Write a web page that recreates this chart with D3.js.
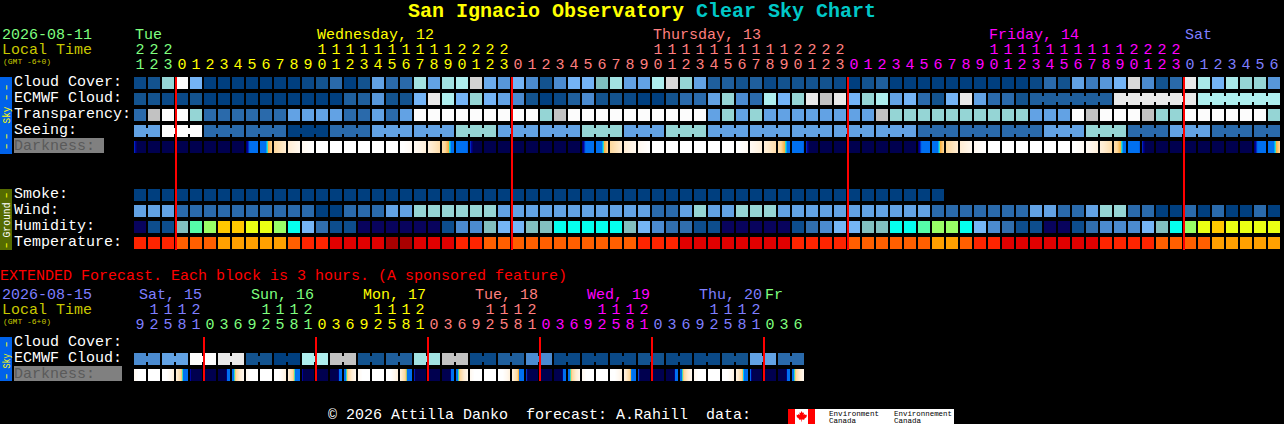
<!DOCTYPE html>
<html><head><meta charset="utf-8">
<script src="https://cdn.jsdelivr.net/npm/d3@7/dist/d3.min.js"></script>
<style>
html,body{margin:0;padding:0;background:#000;overflow:hidden}
svg{display:block}
text{font-family:"Liberation Mono",monospace;white-space:pre}
rect,line{shape-rendering:crispEdges}
</style></head><body><svg id="c" width="1284" height="424"></svg>
<script>
// ---- data: sky values in percent of the colour ramp, one per block ----
const cloudCover=[5,10,70,100,50,0,0,0,0,0,0,0,5,10,20,0,10,40,20,20,75,40,75,80,92,45,35,50,30,10,30,50,50,60,75,40,40,80,93,70,40,15,15,10,15,5,10,10,10,10,5,0,10,15,0,0,0,0,0,0,0,0,0,0,5,20,10,40,25,35,50,93,30,10,20,95,78,50,78,70,70,35];
const ecmwfCloud=[10,10,5,5,10,0,0,0,0,0,0,0,0,0,0,15,15,35,10,10,50,95,80,50,70,50,40,30,10,0,5,15,30,10,10,5,0,0,10,20,20,40,70,30,20,80,50,70,95,90,95,50,70,80,40,50,20,10,50,95,40,20,20,10,15,15,15,15,15,15,95,95,95,95,95,95,80,80,80,80,80,80];
const transparency=[20,90,100,100,70,20,20,20,20,20,20,40,40,40,40,20,20,40,20,40,100,100,100,100,100,100,100,100,100,70,90,100,100,100,100,100,100,100,100,100,100,40,70,40,70,40,40,40,40,40,40,40,40,90,70,70,70,70,70,70,70,70,70,70,40,40,40,100,90,100,100,100,90,70,70,100,100,100,100,100,100,70];
const seeing=[40,40,100,100,100,20,20,20,20,20,20,0,0,0,20,20,20,40,40,40,40,40,40,70,70,70,40,40,40,40,40,40,70,70,70,40,40,40,70,70,70,40,40,40,40,40,40,40,40,40,40,40,40,40,40,40,20,20,20,20,20,20,20,20,20,40,40,40,70,70,70,20,20,20,40,40,40,20,20,20,20,20];
const smoke=[0,0,0,0,0,0,0,0,0,0,0,0,0,0,0,0,0,0,0,0,0,0,0,0,0,0,0,0,0,0,0,0,0,0,0,0,0,0,0,0,0,0,0,0,0,0,0,0,0,0,0,0,0,0,0,0,0,0];
const wind=[40,40,40,20,20,20,20,20,20,20,20,20,20,0,0,20,20,20,40,40,70,70,70,70,70,70,40,40,40,40,40,40,40,40,40,40,40,20,20,40,70,40,40,70,70,70,40,40,40,40,40,40,40,40,40,40,40,20,20,20,20,20,20,20,40,40,20,20,40,70,70,20,20,0,0,20,0,20,0,0,20,0];
// humidity and temperature: class index per block
const humidity=[0,1,1,5,7,8,10,10,9,9,8,6,4,2,1,1,0,0,0,0,0,0,1,3,3,5,4,4,5,5,6,6,6,6,6,5,4,3,2,2,1,1,0,0,0,0,0,1,2,3,4,4,5,5,6,6,7,8,8,6,4,3,2,1,1,0,0,1,2,3,3,3,4,5,6,8,9,10,9,9,9,9];
const temperature=[0,0,0,3,3,3,4,4,4,4,4,3,0,0,1,1,1,1,2,2,1,1,1,0,0,3,3,3,3,3,3,3,3,3,3,3,0,0,0,1,1,1,1,1,1,1,1,0,0,0,0,3,3,3,3,3,3,4,4,3,0,0,1,1,1,1,1,1,1,0,0,0,0,3,3,3,3,4,4,4,4,4];
// sun altitude in degrees at the start of each block (last value closes the last block)
const darkness=[-18.5,-31,-42,-48,-50,-48,-42,-33,-21.5,-8.8,4.4,17.6,31,44,58,65,66,64,58,47,34,20.8,7.7,-5.5,-18.5,-31,-42,-48,-50,-48,-42,-33,-21.5,-8.8,4.4,17.6,31,44,58,65,66,64,58,47,34,20.8,7.7,-5.5,-18.5,-31,-42,-48,-50,-48,-42,-33,-21.5,-8.8,4.4,17.6,31,44,58,65,66,64,58,47,34,20.8,7.7,-5.5,-18.5,-31,-42,-48,-50,-48,-42,-33,-21.5,-8.8,4.4];
// extended forecast
const extEcmwf=[30,30,40,40,100,100,95,95,10,10,0,0,80,80,90,90,10,10,15,15,75,75,90,90,5,5,15,15,30,30,5,5,5,5,5,5,10,10,5,5,5,5,10,10,40,40,20,20];
const extDarkness=[31,65,58,20.8,-18.5,-48,-50,-8.8,31,65,58,21,-18.5,-48,-50,-8.8,31,65,58,21.5,-18,-48,-50,-8.8,31,65,58,22,-17.5,-48,-50,-8.8,31,65,58,23,-17,-48,-50,-8.8,31,65,58,24,-16.5,-48,-50,-8.8,31];
// blocks joined by a bridge: first index of each group
const seeingGroups=[0,2,5,8,11,14,17,20,23,26,29,32,35,38,41,44,47,50,53,56,59,62,65,68,71,74,77,80];
const ecmwfGroups=[64,70,76];
const extGroups=[0,2,4,6,8,10,12,14,16,18,20,22,24,26,28,30,32,34,36,38,40,42,44,46];
// labels
const hourUnits=[1,2,3,0,1,2,3,4,5,6,7,8,9,0,1,2,3,4,5,6,7,8,9,0,1,2,3,0,1,2,3,4,5,6,7,8,9,0,1,2,3,4,5,6,7,8,9,0,1,2,3,0,1,2,3,4,5,6,7,8,9,0,1,2,3,4,5,6,7,8,9,0,1,2,3,0,1,2,3,4,5,6];
const hourTens=["2","2","2","","","","","","","","","","","1","1","1","1","1","1","1","1","1","1","2","2","2","2","","","","","","","","","","","1","1","1","1","1","1","1","1","1","1","2","2","2","2","","","","","","","","","","","1","1","1","1","1","1","1","1","1","1","2","2","2","2","","","","","","",""];
const hourDay=[0,0,0,1,1,1,1,1,1,1,1,1,1,1,1,1,1,1,1,1,1,1,1,1,1,1,1,2,2,2,2,2,2,2,2,2,2,2,2,2,2,2,2,2,2,2,2,2,2,2,2,3,3,3,3,3,3,3,3,3,3,3,3,3,3,3,3,3,3,3,3,3,3,3,3,4,4,4,4,4,4,4];
const dayNames=["Tue","Wednesday, 12","Thursday, 13","Friday, 14","Sat"];
const dayStartCol=[0,13,37,61,75];
const extUnits=[9,2,5,8,1,0,3,6,9,2,5,8,1,0,3,6,9,2,5,8,1,0,3,6,9,2,5,8,1,0,3,6,9,2,5,8,1,0,3,6,9,2,5,8,1,0,3,6];
const extTens=["","1","1","1","2","","","","","1","1","1","2","","","","","1","1","1","2","","","","","1","1","1","2","","","","","1","1","1","2","","","","","1","1","1","2","","",""];
const extHourDay=[4,4,4,4,4,0,0,0,0,0,0,0,0,1,1,1,1,1,1,1,1,2,2,2,2,2,2,2,2,3,3,3,3,3,3,3,3,4,4,4,4,4,4,4,4,0,0,0];
const extTensDay=[4,4,4,4,4,0,0,0,0,0,0,0,0,1,1,1,1,1,1,1,1,2,2,2,2,2,2,2,2,3,3,3,3,3,3,3,3,4,4,4,4,4,4,4,4,0,0,0];
const extDayNames=["Sat, 15","Sun, 16","Mon, 17","Tue, 18","Wed, 19","Thu, 20","Fr"];
const extDayX=[139,251,363,475,587,699,765];
const extDayColor=[4,0,1,2,3,4,0];
const midnights=[3,27,51,75];
const extMidnights=[5,13,21,29,37,45];
const skyLabels=["Cloud Cover:","ECMWF Cloud:","Transparency:","Seeing:"];
const groundLabels=["Smoke:","Wind:","Humidity:","Temperature:"];

// ---- styles and scales ----
const cloudColor=d3.scaleLinear().domain([0,10,20,30,40,50,60,70,80,90,95,100])
 .range(["#003f7f","#13538f","#2a6aab","#4b8bd0","#62a2e4","#74b4f6","#7fbfbf","#95d5d5","#aeeeee","#c2c2c2","#e9e9e9","#fcfcfc"]);
const humidityColor=d3.scaleOrdinal().domain(d3.range(11)).range(["#08035d","#0d4d8d","#306ead","#4b8bd0","#75b5f5","#82bfbf","#05ffee","#56fca8","#99ff66","#eaff14","#ffc800"]);
const tempColor=d3.scaleOrdinal().domain(d3.range(5)).range(["#fe2400","#e10000","#a90000","#ff5f00","#ffa000"]);
const darkColor=d3.scaleLinear().domain([-60,-22,-19.8,-17.6,-2.2,-1.2,-0.3,0.5,4.4,17.6,31,44])
 .range(["#00004f","#00004f","#0000a0","#0070f0","#0070f0","#00d8ff","#50e0a0","#f9b040","#fdd79c","#ffedd3","#fff8ef","#ffffff"]);
const dayColor=["#7fff7f","#ffff00","#ff7f7f","#ff00ff","#7f7fff"];
const dimYellow="#c8c800", WHITE="#ffffff";
const x=d3.scaleLinear().domain([0,1]).range([134,148]);
const CELL=12, BAR=12;

const svg=d3.select("#c");
svg.append("rect").attr("width",1284).attr("height",424).attr("fill","#000");
function label(t,px,py,col,size,extra){
  const e=svg.append("text").attr("x",px).attr("y",py).attr("fill",col).attr("font-size",size||15).text(t);
  if(extra) extra(e); return e;
}
function blocks(vals,top,colorFn,groups){
  const g=svg.append("g");
  g.selectAll("rect").data(vals).join("rect")
   .attr("x",(d,i)=>x(i)).attr("y",top).attr("width",CELL).attr("height",BAR).attr("fill",d=>colorFn(d));
  if(groups){
    const starts=new Set(groups), links=[];
    vals.forEach((d,i)=>{ if(i<vals.length-1&&!starts.has(i+1)&&i>=groups[0]) links.push(i); });
    g.selectAll("rect.l").data(links).join("rect").attr("class","l")
     .attr("x",i=>x(i)+CELL).attr("y",top+3).attr("width",x(1)-x(0)-CELL).attr("height",6).attr("fill",i=>colorFn(vals[i]));
  }
}
function darkBlocks(vals,top){
  const g=svg.append("g"), slices=[];
  d3.range(vals.length-1).forEach(i=>{
    const s=d3.scaleLinear().domain([0,CELL]).range([vals[i],vals[i+1]]);
    d3.range(CELL).forEach(p=>slices.push({px:x(i)+p,v:s(p+0.5)}));
  });
  g.selectAll("rect").data(slices).join("rect").attr("x",d=>d.px).attr("y",top).attr("width",1).attr("height",BAR).attr("fill",d=>darkColor(d.v));
}
function sideBar(y0,y1,col,word,wordCol,wordLen,dashCol,yc,dashes){
  svg.append("rect").attr("x",0).attr("y",y0).attr("width",12).attr("height",y1-y0).attr("fill",col);
  svg.append("text").attr("transform",`translate(9.5,${yc}) rotate(-90)`).attr("text-anchor","middle")
     .attr("fill",wordCol).attr("font-size",11).attr("textLength",wordLen).attr("lengthAdjust","spacingAndGlyphs").text(word);
  dashes.forEach(d=>svg.append("text").attr("transform",`translate(9.3,${d.y}) rotate(-90) scale(1.4,1)`).attr("text-anchor","middle")
     .attr("fill",dashCol).attr("font-size",11).attr("letter-spacing",0.5).text(d.t));
}

// ---- title ----
label("San Ignacio Observatory",408,17,"#ffff00",20,e=>e.attr("font-weight","bold"));
label("Clear Sky Chart",696,17,"#00c8c8",20,e=>e.attr("font-weight","bold"));

// ---- main header ----
label("2026-08-11",2,39,dayColor[0]);
label("Local Time",2,54,dimYellow);
label("(GMT -6+0)",3,64,dimYellow,8);
dayNames.forEach((n,i)=>label(n,x(dayStartCol[i])+1,39,dayColor[i]));
hourUnits.forEach((h,i)=>label(h,x(i)+1.5,69,dayColor[hourDay[i]]));
hourTens.forEach((h,i)=>{if(h)label(h,x(i)+1.5,54,dayColor[hourDay[i]]);});

// ---- main rows ----
skyLabels.forEach((t,i)=>label(t,14,86+16*i,WHITE));
svg.append("rect").attr("x",14).attr("y",138).attr("width",90).attr("height",15).attr("fill","#808080");
label("Darkness:",14,150,"#5a5a5a");
groundLabels.forEach((t,i)=>label(t,14,198+16*i,WHITE));

blocks(cloudCover,77,cloudColor);
blocks(ecmwfCloud,93,cloudColor,ecmwfGroups);
blocks(transparency,109,cloudColor);
blocks(seeing,125,cloudColor,seeingGroups);
darkBlocks(darkness,141);
blocks(smoke,189,cloudColor);
blocks(wind,205,cloudColor);
blocks(humidity,221,humidityColor);
blocks(temperature,237,tempColor);

svg.append("g").selectAll("rect").data(midnights).join("rect")
 .attr("x",d=>x(d)-1).attr("y",77).attr("width",2).attr("height",173).attr("fill","#ff0000");

sideBar(77,154,"#0062ea","Sky","#ffff00",17,"#ffff00",115,[{t:"--",y:92},{t:"--",y:141}]);
sideBar(189,250,"#556b00","Ground",WHITE,35,"#ffff00",220,[{t:"-",y:195},{t:"-",y:245}]);

// ---- extended ----
label("EXTENDED Forecast. Each block is 3 hours. (A sponsored feature)",0,280,"#ff0000");
label("2026-08-15",2,299,dayColor[4]);
label("Local Time",2,314,dimYellow);
label("(GMT -6+0)",3,324,dimYellow,8);
extDayNames.forEach((n,i)=>label(n,extDayX[i],299,dayColor[extDayColor[i]]));
extUnits.forEach((h,i)=>label(h,x(i)+1.5,329,dayColor[extHourDay[i]]));
extTens.forEach((h,i)=>{if(h)label(h,x(i)+1.5,314,dayColor[extTensDay[i]]);});
label("Cloud Cover:",14,346,WHITE);
label("ECMWF Cloud:",14,362,WHITE);
svg.append("rect").attr("x",14).attr("y",366).attr("width",108).attr("height",15).attr("fill","#808080");
label("Darkness:",14,378,"#5a5a5a");
blocks(extEcmwf,353,cloudColor,extGroups);
darkBlocks(extDarkness,369);
svg.append("g").selectAll("rect").data(extMidnights).join("rect")
 .attr("x",d=>x(d)-1).attr("y",337).attr("width",2).attr("height",44).attr("fill","#ff0000");
sideBar(337,381,"#0062ea","Sky","#ffff00",15,"#ffff00",361,[{t:"-",y:344},{t:"-",y:376}]);

// ---- footer ----
label("\u00a9 2026 Attilla Danko  forecast: A.Rahill  data:",328,419,WHITE);
svg.append("rect").attr("x",788).attr("y",409).attr("width",166).attr("height",15).attr("fill","#fff");
svg.append("rect").attr("x",788).attr("y",409).attr("width",7).attr("height",15).attr("fill","#f00");
svg.append("rect").attr("x",808).attr("y",409).attr("width",7).attr("height",15).attr("fill","#f00");
svg.append("path").attr("d","M801.5 411 l1.2 2 1.3-.6-.4 2.6 1.4-1 .4 1 1.6-.2-.6 1.6.6.4-2.6 2-.2 1-2.2-.3 0 2-.6 0 0-2-2.2.3-.2-1-2.6-2 .6-.4-.6-1.6 1.6.2.4-1 1.4 1-.4-2.6 1.3.6z").attr("fill","#f00");
[["Environment",829,416,50],["Canada",829,423,27],["Environnement",894,416,58],["Canada",894,423,27]].forEach(d=>
  label(d[0],d[1],d[2],"#000",8,e=>e.attr("font-family","Liberation Sans").attr("textLength",d[3]).attr("lengthAdjust","spacingAndGlyphs")));
</script></body></html>
